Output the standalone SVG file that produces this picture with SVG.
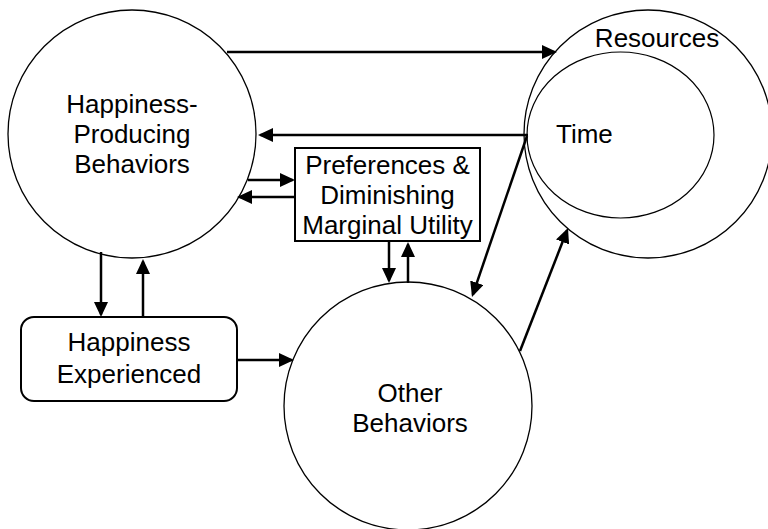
<svg xmlns="http://www.w3.org/2000/svg" width="768" height="529" viewBox="0 0 768 529">
<style>
.t{font-family:"Liberation Sans",Arial,sans-serif;font-size:26px;fill:#000;text-anchor:middle}
.c{fill:#fff;stroke:#000;stroke-width:1.3}
.e{fill:none;stroke:#000;stroke-width:1.2}
.b{fill:#fff;stroke:#000;stroke-width:2}
.a{fill:none;stroke:#000;stroke-width:2.5;marker-end:url(#ah)}
</style>
<defs>
<marker id="ah" markerUnits="userSpaceOnUse" viewBox="0 0 15 14" markerWidth="15" markerHeight="14" refX="12.5" refY="7" orient="auto">
<path d="M0,0 L15,7 L0,14 z" fill="#000"/>
</marker>
</defs>
<rect width="768" height="529" fill="#fff"/>
<g id="resources">
<circle class="c" cx="648" cy="134" r="124"/>
<text class="t" x="657" y="47">Resources</text>
</g>
<g id="time">
<ellipse class="e" cx="620.5" cy="135" rx="93.5" ry="83"/>
<text class="t" x="556" y="143" style="text-anchor:start">Time</text>
</g>
<g id="happiness-producing">
<circle class="c" cx="132" cy="134" r="124"/>
<text class="t" x="132" y="113">Happiness-</text>
<text class="t" x="132" y="143">Producing</text>
<text class="t" x="132" y="173">Behaviors</text>
</g>
<g id="other">
<circle class="c" cx="408" cy="406" r="124"/>
<text class="t" x="410" y="402">Other</text>
<text class="t" x="410" y="432">Behaviors</text>
</g>
<g id="preferences">
<rect class="b" x="295" y="148" width="185" height="93"/>
<text class="t" x="387.5" y="174">Preferences &amp;</text>
<text class="t" x="387.5" y="204">Diminishing</text>
<text class="t" x="387.5" y="234">Marginal Utility</text>
</g>
<g id="happiness-experienced">
<rect class="b" x="21" y="317" width="216" height="84" rx="13" ry="13"/>
<text class="t" x="129" y="351">Happiness</text>
<text class="t" x="129" y="383">Experienced</text>
</g>
<g id="connectors">
<path class="a" d="M227,52 L554.5,52"/>
<path class="a" d="M528,135 L260.5,135"/>
<path class="a" d="M248,180 L292.5,180"/>
<path class="a" d="M295,197 L239.5,197"/>
<path class="a" d="M389,241 L389,280.5"/>
<path class="a" d="M408,283 L408,244.5"/>
<path class="a" d="M101,252 L101,314.5"/>
<path class="a" d="M143,317 L143,261.5"/>
<path class="a" d="M237,360 L291.5,360"/>
<path class="a" d="M527,136 L472.8,294.6"/>
<path class="a" d="M520,351 L567.1,230.3"/>
</g>
</svg>
